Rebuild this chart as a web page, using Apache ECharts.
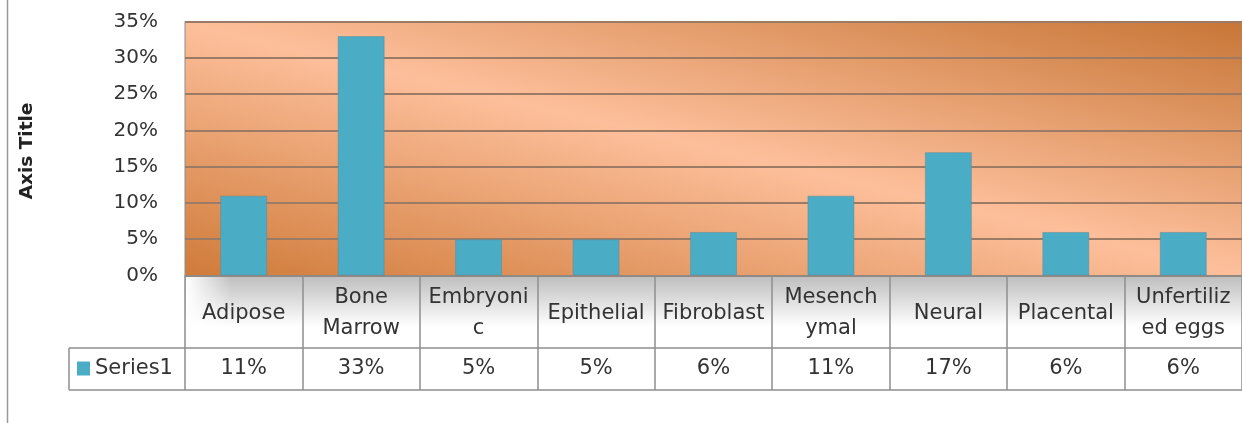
<!DOCTYPE html>
<html>
<head>
<meta charset="utf-8">
<script src="https://cdn.jsdelivr.net/npm/echarts@6/dist/echarts.min.js"></script>
<style>
html,body{margin:0;padding:0;background:#fff;}
#chart{width:1242px;height:423px;}
</style>
</head>
<body>
<div id="chart"></div>
<script>
const categories = ['Adipose','Bone Marrow','Embryonic','Epithelial','Fibroblast','Mesenchymal','Neural','Placental','Unfertilized eggs'];
const tickLabels = ['Adipose','Bone\nMarrow','Embryoni\nc','Epithelial','Fibroblast','Mesench\nymal','Neural','Placental','Unfertiliz\ned eggs'];
const values = [11,33,5,5,6,11,17,6,6];
const seriesName = 'Series1';
const yMin = 0, yMax = 35, yStep = 5;
const axisTitle = 'Axis Title';

const FONT = 'DejaVu Sans';
const TXT = '#333333';
const LINE = '#8e8e8e';

const chart = echarts.init(document.getElementById('chart'), null, {renderer:'canvas'});

const plotBg = new echarts.graphic.LinearGradient(0.446, 1.446, 0.554, -0.446, [
  {offset:0, color:'#CF7A38'},
  {offset:0.5, color:'#FDBF9B'},
  {offset:1, color:'#C77535'}
]);

const option = {
  animation:false,
  grid:{left:185, top:21.5, width:1062, height:254, show:true, backgroundColor:plotBg, borderColor:'#8c8c8c', borderWidth:1, containLabel:false},
  legend:{data:[seriesName], left:77, top:358, padding:0, itemWidth:13, itemHeight:14, icon:'rect', selectedMode:false,
    itemStyle:{borderWidth:0},
    textStyle:{fontFamily:FONT, fontSize:21, color:TXT}},
  xAxis:[
    {type:'category', data:categories, position:'bottom', boundaryGap:true,
     axisLine:{show:true, lineStyle:{color:LINE, width:1.5}},
     axisTick:{show:true, interval:0, length:114.5, lineStyle:{color:LINE, width:1.5}},
     axisLabel:{interval:0, margin:38, verticalAlign:'middle', lineHeight:31, fontFamily:FONT, fontSize:21, color:TXT,
       formatter:(v, i) => tickLabels[i]},
     splitLine:{show:false}},
    {type:'category', data:values.map(v => v + '%'), position:'bottom', offset:72.5, boundaryGap:true,
     axisLine:{show:true, lineStyle:{color:LINE, width:1.5}},
     axisTick:{show:false},
     axisLabel:{interval:0, margin:21, verticalAlign:'middle', fontFamily:FONT, fontSize:21, color:TXT},
     splitLine:{show:false}},
    {type:'category', data:categories, position:'bottom', offset:114.5, boundaryGap:true,
     axisLine:{show:true, lineStyle:{color:LINE, width:1.5}},
     axisTick:{show:false}, axisLabel:{show:false}, splitLine:{show:false}}
  ],
  yAxis:{type:'value', min:yMin, max:yMax, interval:yStep,
    axisLine:{show:false}, axisTick:{show:false},
    axisLabel:{margin:27, formatter:'{value}%', fontFamily:FONT, fontSize:20, color:TXT},
    splitLine:{show:true, lineStyle:{color:'#9b7b66', width:2}}},
  series:[{name:seriesName, type:'bar', xAxisIndex:0, data:values, barWidth:'40%',
    itemStyle:{color:'#4BACC6', borderColor:'rgba(90,140,155,0.5)', borderWidth:1}}],
  graphic:{elements:[
    {type:'rect', z:-10, shape:{x:185, y:276, width:1062, height:72},
     style:{fill:new echarts.graphic.LinearGradient(0,0,0,1,[{offset:0,color:'#BEBEBE'},{offset:0.7,color:'#FFFFFF'}])}},
    {type:'rect', z:-9, shape:{x:186, y:276, width:45, height:60},
     style:{fill:new echarts.graphic.LinearGradient(0,0,1,0,[{offset:0,color:'rgba(255,255,255,1)'},{offset:1,color:'rgba(255,255,255,0)'}])}},
    {type:'line', shape:{x1:69, y1:348, x2:185, y2:348}, style:{stroke:LINE, lineWidth:1.5}},
    {type:'line', shape:{x1:69, y1:390, x2:185, y2:390}, style:{stroke:LINE, lineWidth:1.5}},
    {type:'line', shape:{x1:69, y1:348, x2:69, y2:390}, style:{stroke:LINE, lineWidth:1.5}},
    {type:'line', shape:{x1:7.5, y1:0, x2:7.5, y2:423}, style:{stroke:'#9a9a9a', lineWidth:1.5}},
    {type:'text', x:27.5, y:151, rotation:Math.PI/2,
     style:{text:axisTitle, align:'center', verticalAlign:'middle', fontFamily:FONT, fontWeight:'bold', fontSize:18.5, fill:'#222222'}}
  ]}
};
chart.setOption(option);
</script>
</body>
</html>
